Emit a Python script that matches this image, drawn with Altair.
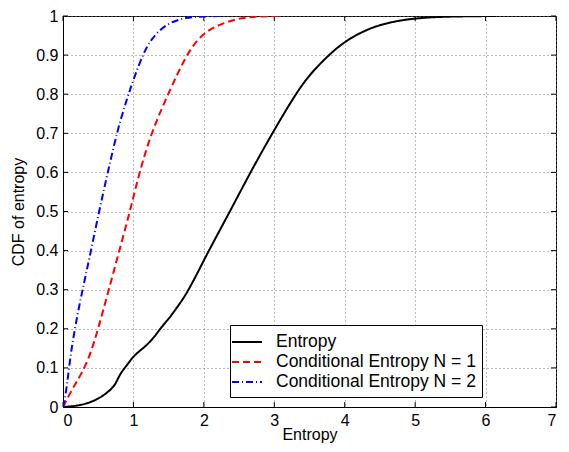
import altair as alt
import pandas as pd

# ---- data ----
series_names = ["Entropy", "Conditional Entropy N = 1", "Conditional Entropy N = 2"]

entropy_x = [0, 0.22, 0.41, 0.55, 0.69, 0.75, 0.81, 0.9, 1.0, 1.1, 1.2, 1.3, 1.4, 1.5,
             1.6, 1.7, 1.8, 1.93, 2.07, 2.37, 2.66, 2.97, 3.3, 3.5, 3.77, 4.0, 4.3,
             4.6, 5.0, 5.5, 6.15]
entropy_y = [0, 0.003, 0.013, 0.026, 0.046, 0.06, 0.085, 0.105, 0.13, 0.145, 0.16,
             0.18, 0.205, 0.225, 0.25, 0.275, 0.305, 0.35, 0.40, 0.5, 0.6, 0.7, 0.8,
             0.85, 0.9, 0.935, 0.965, 0.983, 0.995, 0.999, 1.0]

cond1_x = [0, 0.038, 0.131, 0.248, 0.375, 0.5, 0.65, 0.8, 0.95, 1.08, 1.25, 1.49,
           1.75, 1.91, 2.05, 2.22, 2.48, 2.75, 3.06]
cond1_y = [0, 0.013, 0.046, 0.08, 0.127, 0.2, 0.3, 0.4, 0.5, 0.597, 0.7, 0.8, 0.9,
           0.94, 0.962, 0.978, 0.994, 0.999, 1.0]

cond2_x = [0, 0.014, 0.06, 0.108, 0.178, 0.272, 0.365, 0.515, 0.637, 0.777, 0.903,
           0.997, 1.138, 1.255, 1.465, 1.75, 2.0, 2.24]
cond2_y = [0, 0.008, 0.059, 0.135, 0.211, 0.296, 0.372, 0.503, 0.601, 0.711, 0.785,
           0.836, 0.904, 0.942, 0.981, 0.997, 0.999, 1.0]

x_ticks = [0, 1, 2, 3, 4, 5, 6, 7]
y_ticks = [0, 0.1, 0.2, 0.3, 0.4, 0.5, 0.6, 0.7, 0.8, 0.9, 1.0]

colors = ["#000000", "#FF0000", "#0000FF"]
dashes = [[1, 0], [7, 4], [7, 3, 1, 3]]

# ---- build table ----
rows = []
for name, xs, ys in zip(series_names, [entropy_x, cond1_x, cond2_x],
                        [entropy_y, cond1_y, cond2_y]):
    for i, (a, b) in enumerate(zip(xs, ys)):
        rows.append({"x": a, "y": b, "series": name, "order": i})
df = pd.DataFrame(rows)
xt = pd.DataFrame({"x": x_ticks})
yt = pd.DataFrame({"y": y_ticks})

W, H = 493, 391
FONT = "Liberation Sans"

x_axis = alt.Axis(values=x_ticks, format="~g", title="Entropy", grid=True,
                  labelPadding=5, titleY=32, titleBaseline="alphabetic")
y_axis = alt.Axis(values=y_ticks, format="~g", title="CDF of entropy", grid=True,
                  labelPadding=5, titleX=-40, titleBaseline="alphabetic")
x_enc = alt.X("x:Q", scale=alt.Scale(domain=[0, 7], nice=False), axis=x_axis)
y_enc = alt.Y("y:Q", scale=alt.Scale(domain=[0, 1], nice=False), axis=y_axis)

lines = alt.Chart(df).mark_line(strokeWidth=2, interpolate="basis", clip=True).encode(
    x=x_enc,
    y=y_enc,
    color=alt.Color("series:N", scale=alt.Scale(domain=series_names, range=colors),
                    legend=alt.Legend(title=None, orient="none", legendX=167, legendY=309,
                                      strokeColor="black", fillColor="white", padding=6,
                                      labelFontSize=17.5, labelFont=FONT, labelColor="black",
                                      symbolType="M-1.5,0H1.5", symbolSize=400,
                                      symbolStrokeWidth=2, labelOffset=18, rowPadding=0,
                                      cornerRadius=0, labelLimit=400)),
    strokeDash=alt.StrokeDash("series:N",
                              scale=alt.Scale(domain=series_names, range=dashes)),
    order="order:Q",
)

tick_bottom = alt.Chart(xt).mark_rule(color="black", strokeWidth=1).encode(
    x=x_enc, y=alt.value(H), y2=alt.value(H - 5))
tick_top = alt.Chart(xt).mark_rule(color="black", strokeWidth=1).encode(
    x=x_enc, y=alt.value(0), y2=alt.value(5))
tick_left = alt.Chart(yt).mark_rule(color="black", strokeWidth=1).encode(
    y=y_enc, x=alt.value(0), x2=alt.value(5))
tick_right = alt.Chart(yt).mark_rule(color="black", strokeWidth=1).encode(
    y=y_enc, x=alt.value(W), x2=alt.value(W - 5))

chart = alt.layer(tick_bottom, tick_top, tick_left, tick_right, lines).properties(
    width=W, height=H,
    autosize=alt.AutoSizeParams(type="none"),
    padding={"left": 55, "top": 8, "right": 5, "bottom": 36},
    background="white",
).configure_view(
    stroke="black", strokeWidth=1
).configure_axis(
    labelFont=FONT, labelFontSize=16, labelColor="black",
    titleFont=FONT, titleFontSize=16, titleFontWeight="normal", titleColor="black",
    tickSize=0, domainColor="black", domainWidth=1,
    gridColor="#777777", gridDash=[1, 3], gridWidth=1, gridOpacity=1,
)

chart.save("out.html", embed_options={"renderer": "svg", "actions": False})
